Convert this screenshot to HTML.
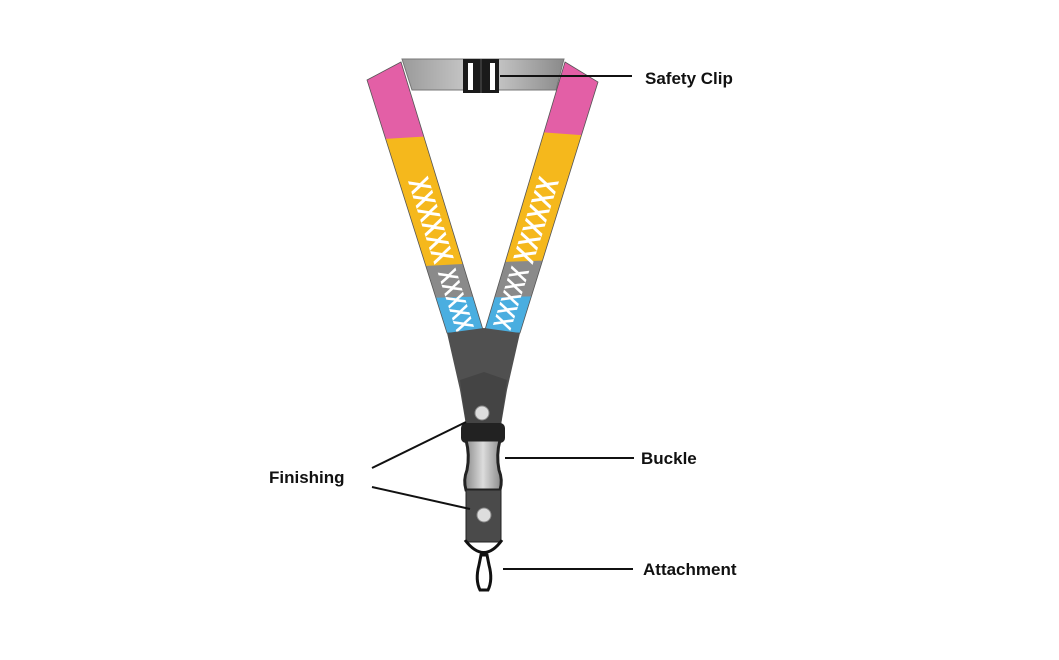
<!DOCTYPE html>
<html><head><style>
html,body{margin:0;padding:0;background:#fff;width:1059px;height:660px;overflow:hidden}
svg{display:block}
text.l{font-family:"Liberation Sans",sans-serif;font-weight:bold;font-size:17px;fill:#111}
text.x{font-family:"Liberation Sans",sans-serif;font-weight:bold;fill:#fff}
</style></head><body>
<svg width="1059" height="660" viewBox="0 0 1059 660">
<defs>
<clipPath id="cl"><polygon points="367,80 401,62 484,333 447,333"/></clipPath>
<clipPath id="cr"><polygon points="565,62 598,82 520,333 484,333"/></clipPath>
<linearGradient id="gb" x1="0" y1="0" x2="1" y2="0"><stop offset="0" stop-color="#9a9a9a"/><stop offset="0.5" stop-color="#d0d0d0"/><stop offset="1" stop-color="#8a8a8a"/></linearGradient>
<linearGradient id="bk" x1="0" y1="0" x2="1" y2="0"><stop offset="0" stop-color="#888"/><stop offset="0.5" stop-color="#dcdcdc"/><stop offset="1" stop-color="#8a8a8a"/></linearGradient>
</defs>
<polygon points="402,59 564,59 556,90 412,90" fill="url(#gb)" stroke="#777" stroke-width="1"/>
<g clip-path="url(#cl)">
<rect x="350" y="50" width="150" height="90" fill="#e35fa6"/>
<polygon points="350,141 500,132 500,270 350,270" fill="#f5b81c"/>
<polygon points="350,270 500,262 500,300 350,300" fill="#8a8a8a"/>
<polygon points="350,300 500,296 500,333 350,333" fill="#4aaee0"/>
<text class="x" font-size="22" text-anchor="middle" dominant-baseline="central" transform="translate(431,220) rotate(72.5) scale(1,1.35)">XXXXXX</text>
<text class="x" font-size="19" text-anchor="middle" dominant-baseline="central" transform="translate(456,300) rotate(72.5) scale(1,1.4)">XXXXX</text>
</g>
<polygon points="367,80 401,62 484,333 447,333" fill="none" stroke="#555" stroke-width="0.8"/>
<g clip-path="url(#cr)">
<rect x="470" y="50" width="150" height="85" fill="#e35fa6"/>
<polygon points="470,127 620,138 620,263 470,263" fill="#f5b81c"/>
<polygon points="470,263 620,258 620,295 470,298" fill="#8a8a8a"/>
<polygon points="470,298 620,294 620,333 470,333" fill="#4aaee0"/>
<text class="x" font-size="22" text-anchor="middle" dominant-baseline="central" transform="translate(536,220) rotate(-72.5) scale(1,1.35)">XXXXXX</text>
<text class="x" font-size="19" text-anchor="middle" dominant-baseline="central" transform="translate(511,298) rotate(-72.5) scale(1,1.4)">XXXXX</text>
</g>
<polygon points="565,62 598,82 520,333 484,333" fill="none" stroke="#555" stroke-width="0.8"/>
<rect x="463" y="59" width="36" height="34" fill="#1a1a1a"/>
<rect x="468" y="63" width="5" height="27" fill="#fff"/>
<rect x="490" y="63" width="5" height="27" fill="#fff"/>
<line x1="481" y1="59" x2="481" y2="93" stroke="#555"/>
<polygon points="447,333 484,328 520,333 507,390 501,425 466,425 460,390" fill="#505050"/>
<polygon points="460,380 484,372 507,380 501,425 466,425" fill="#444"/>
<circle cx="482" cy="413" r="7" fill="#ddd" stroke="#888"/>
<rect x="461" y="423" width="44" height="20" rx="5" fill="#222"/>
<path d="M466,440 L500,440 Q496,455 499,470 Q503,480 500,490 L466,490 Q463,480 467,470 Q470,455 466,440Z" fill="url(#bk)" stroke="#222" stroke-width="3"/>
<rect x="466" y="490" width="35" height="52" fill="#4a4a4a" stroke="#222"/>
<circle cx="484" cy="515" r="7" fill="#ddd" stroke="#888"/>
<path d="M465,540 Q484,565 502,540" fill="none" stroke="#111" stroke-width="3"/>
<path d="M481,555 L487,555 L489,565 Q493,580 488,590 L480,590 Q475,580 479,565Z" fill="none" stroke="#111" stroke-width="3"/>
<g stroke="#111" stroke-width="2">
<line x1="500" y1="76" x2="632" y2="76"/>
<line x1="505" y1="458" x2="634" y2="458"/>
<line x1="503" y1="569" x2="633" y2="569"/>
<line x1="372" y1="468" x2="466" y2="422"/>
<line x1="372" y1="487" x2="470" y2="509"/>
</g>
<text class="l" x="645" y="84">Safety Clip</text>
<text class="l" x="641" y="464">Buckle</text>
<text class="l" x="643" y="575">Attachment</text>
<text class="l" x="269" y="483">Finishing</text>
</svg>
</body></html>
